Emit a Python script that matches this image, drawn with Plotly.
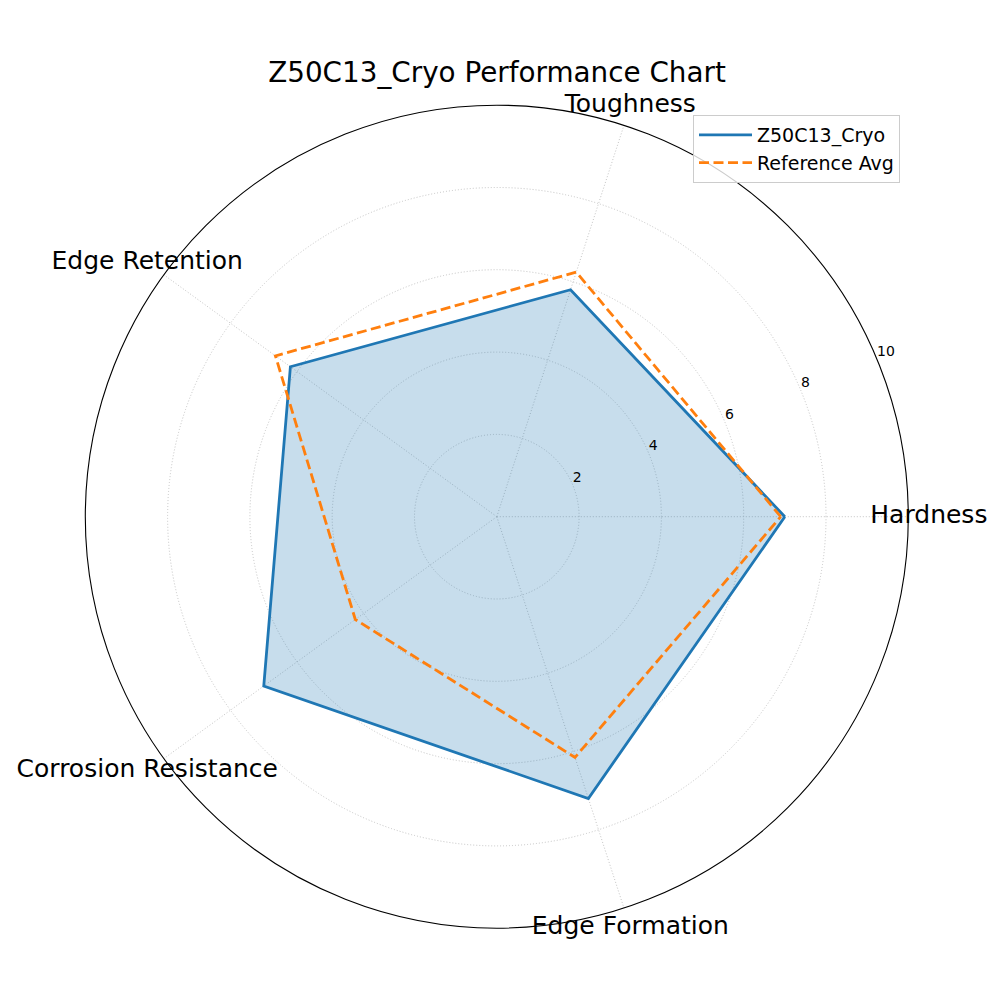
import plotly.graph_objects as go

# ---- data ----
categories = ["Hardness", "Toughness", "Edge Retention", "Corrosion Resistance", "Edge Formation"]
steel_name = "Z50C13_Cryo"
steel_values = [7.0, 5.8, 6.2, 7.0, 7.2]
ref_name = "Reference Avg"
ref_values = [6.9, 6.25, 6.65, 4.25, 6.15]
radial_ticks = [2, 4, 6, 8, 10]
radial_tick_labels = ["2", "4", "6", "8", "10"]
title_text = "Z50C13_Cryo Performance Chart"

FONT = "DejaVu Sans"
n = len(categories)
angles = [i * 360.0 / n for i in range(n)]
closed_angles = angles + [angles[0]]
steel_closed = steel_values + [steel_values[0]]
ref_closed = ref_values + [ref_values[0]]

fig = go.Figure()

# filled area (no legend entry)
fig.add_trace(go.Scatterpolar(
    r=steel_closed, theta=closed_angles, mode="lines",
    line=dict(color="rgba(0,0,0,0)", width=0),
    fill="toself", fillcolor="rgba(31,119,180,0.25)",
    showlegend=False, hoverinfo="skip",
))

fig.add_trace(go.Scatterpolar(
    r=steel_closed, theta=closed_angles, mode="lines",
    name=steel_name,
    line=dict(color="#1f77b4", width=2.8),
))

fig.add_trace(go.Scatterpolar(
    r=ref_closed, theta=closed_angles, mode="lines",
    name=ref_name,
    line=dict(color="#ff7f0e", width=2.8, dash="10px,4.5px"),
))

# radial tick labels at 22.5 degrees (matplotlib default)
fig.add_trace(go.Scatterpolar(
    r=radial_ticks, theta=[22.5] * len(radial_ticks),
    mode="text", text=radial_tick_labels, textposition="top right",
    textfont=dict(family=FONT, size=14, color="black"),
    cliponaxis=False, showlegend=False, hoverinfo="skip",
))

# category labels on an invisible, concentric, larger polar subplot
fig.add_trace(go.Scatterpolar(
    r=[10.5] * n, theta=angles, mode="text", text=categories,
    textposition="middle center",
    textfont=dict(family=FONT, size=25, color="black"),
    cliponaxis=False, showlegend=False, hoverinfo="skip",
    subplot="polar2",
))

# geometry (the page body has an 8px margin, compensated here)
cx, cy, R = 488.8, 508.7, 411.5     # paper-pixel centre and radius for r = 10
R2 = R * 10.5 / 10.0
W = H = 1000.0

def dom(rad):
    return dict(x=[(cx - rad) / W, (cx + rad) / W],
                y=[1 - (cy + rad) / H, 1 - (cy - rad) / H])

fig.update_layout(
    width=1000, height=1000,
    margin=dict(l=0, r=0, t=0, b=0),
    paper_bgcolor="white",
    plot_bgcolor="white",
    font=dict(family=FONT, color="black"),
    title=dict(
        text=title_text,
        x=0.489, xanchor="center",
        y=0.936, yanchor="middle",
        font=dict(family=FONT, size=27.8, color="black"),
    ),
    polar=dict(
        domain=dom(R),
        bgcolor="white",
        radialaxis=dict(
            range=[0, 10], tickvals=radial_ticks, showticklabels=False,
            ticks="", showline=False,
            gridcolor="#c4c4c4", griddash="1px,2px", gridwidth=1,
        ),
        angularaxis=dict(
            type="linear", thetaunit="degrees", rotation=0,
            direction="counterclockwise", tickvals=angles,
            showticklabels=False, ticks="",
            showline=True, linecolor="black", linewidth=1.1,
            gridcolor="#c4c4c4", griddash="1px,2px", gridwidth=1,
        ),
    ),
    polar2=dict(
        domain=dom(R2),
        bgcolor="rgba(0,0,0,0)",
        radialaxis=dict(range=[0, 10.5], visible=False),
        angularaxis=dict(
            type="linear", thetaunit="degrees", rotation=0,
            direction="counterclockwise", visible=False,
        ),
    ),
    legend=dict(
        x=0.892, xanchor="right",
        y=0.893, yanchor="top",
        bgcolor="rgba(255,255,255,0.8)",
        bordercolor="#cccccc", borderwidth=1,
        font=dict(family=FONT, size=19, color="black"),
        itemwidth=53,
    ),
)

fig.write_html("out.html")
